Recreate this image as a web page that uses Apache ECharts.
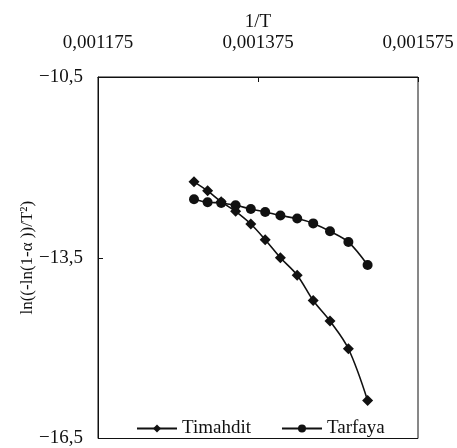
<!DOCTYPE html>
<html><head><meta charset="utf-8">
<script src="https://cdn.jsdelivr.net/npm/echarts@6/dist/echarts.min.js"></script>
<style>html,body{margin:0;padding:0;background:#fff}#c{width:457px;height:448px}</style>
</head><body><div id="c"></div>
<script>
const invT = [0.001295, 0.001312, 0.001329, 0.001347, 0.001366, 0.001384, 0.001403, 0.001424, 0.001444, 0.001465, 0.001488, 0.001512];
const timahdit = [-12.24, -12.39, -12.57, -12.73, -12.94, -13.20, -13.50, -13.79, -14.21, -14.55, -15.01, -15.87];
const tarfaya = [-12.53, -12.58, -12.59, -12.63, -12.69, -12.74, -12.80, -12.85, -12.93, -13.06, -13.24, -13.62];
const xTicks = [0.001175, 0.001375, 0.001575];
const yTicks = [-16.5, -13.5, -10.5];
const seriesNames = ['Timahdit', 'Tarfaya'];

const FONT = '"Liberation Serif", "DejaVu Serif", serif';
const ink = '#111';
const pair = (ys) => invT.map((x, i) => [x, ys[i]]);
const chart = echarts.init(document.getElementById('c'), null, {renderer: 'canvas'});
chart.setOption({
  animation: false,
  backgroundColor: '#fff',
  grid: {left: 98, top: 77, right: 39, bottom: 4, show: true, borderColor: ink, borderWidth: 1, backgroundColor: 'transparent'},
  xAxis: {
    type: 'value', position: 'top',
    min: xTicks[0], max: xTicks[2], interval: xTicks[1] - xTicks[0],
    name: '1/T', nameLocation: 'middle', nameGap: 45, nameMoveOverlap: false,
    nameTextStyle: {fontFamily: FONT, fontSize: 19, color: ink},
    axisLine: {lineStyle: {color: ink}},
    axisTick: {inside: true, length: 5, lineStyle: {color: ink}},
    splitLine: {show: false},
    axisLabel: {fontFamily: FONT, fontSize: 19, color: ink, margin: 24, showMaxLabel: true, showMinLabel: true,
      formatter: v => v.toFixed(6).replace('.', ',')}
  },
  yAxis: {
    type: 'value',
    min: yTicks[0], max: yTicks[2], interval: yTicks[1] - yTicks[0],
    name: 'ln((-ln(1-α ))/T²)', nameLocation: 'middle', nameGap: 62, nameRotate: 90, nameMoveOverlap: false,
    nameTextStyle: {fontFamily: FONT, fontSize: 17, color: ink},
    axisLine: {lineStyle: {color: ink}},
    axisTick: {inside: true, length: 5, lineStyle: {color: ink}},
    splitLine: {show: false},
    axisLabel: {fontFamily: FONT, fontSize: 19, color: ink, margin: 15,
      formatter: v => (v < 0 ? '\u2212' : '') + Math.abs(v).toFixed(1).replace('.', ',')}
  },
  legend: {
    bottom: 5, left: 131, itemGap: 30, itemWidth: 40, itemHeight: 10,
    data: seriesNames,
    textStyle: {fontFamily: FONT, fontSize: 19, color: ink, letterSpacing: 0.3}
  },
  series: [
    {name: seriesNames[0], type: 'line', data: pair(timahdit), smooth: 0.35,
      symbol: 'diamond', symbolSize: 11, itemStyle: {color: ink}, lineStyle: {color: ink, width: 1.6}},
    {name: seriesNames[1], type: 'line', data: pair(tarfaya), smooth: 0.35,
      symbol: 'circle', symbolSize: 10, itemStyle: {color: ink}, lineStyle: {color: ink, width: 1.6}}
  ]
});
</script></body></html>
